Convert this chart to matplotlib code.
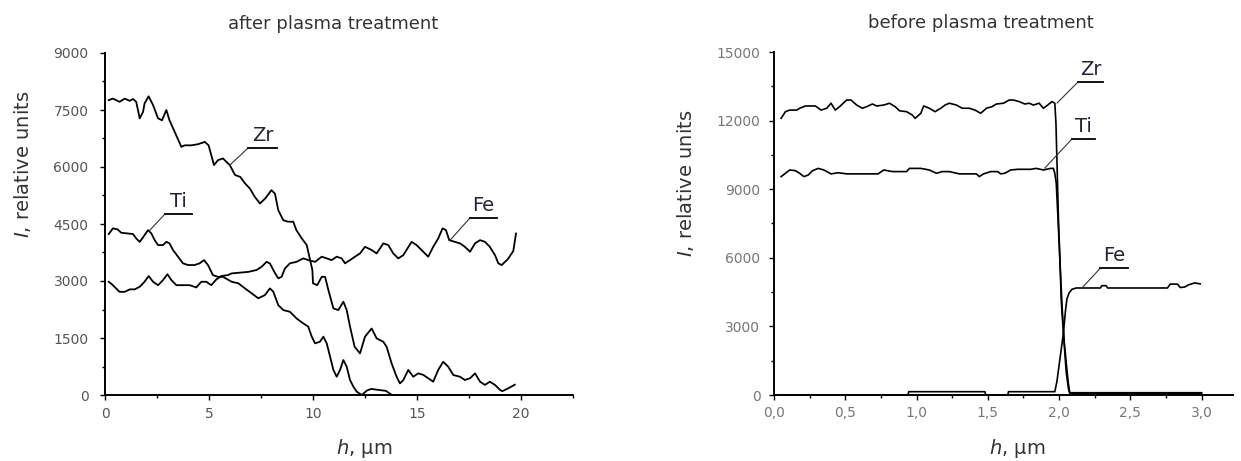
#importing libraries
import matplotlib.pyplot as plt
from matplotlib.ticker import MultipleLocator, FixedLocator

plt.rcParams['font.family'] = ['DejaVu Sans']
plt.rcParams['mathtext.fontset'] = 'dejavusans'

#depth profiles after plasma treatment (h in um, intensity in relative units)
zr_after_h = [0.18, 0.38, 0.7, 0.95, 1.19, 1.35, 1.5, 1.67, 1.83, 1.9, 2.1, 2.31, 2.55, 2.74, 2.95, 3.1,
              3.35, 3.67, 3.83, 4.15, 4.47, 4.8, 4.98, 5.24, 5.43, 5.67, 6.0, 6.25, 6.5, 6.73, 6.97, 7.2,
              7.45, 7.7, 8.0, 8.17, 8.33, 8.57, 8.8, 9.05, 9.2, 9.46, 9.7, 9.86, 9.97, 10.0, 10.2, 10.42,
              10.58, 10.74, 10.98, 11.22, 11.46, 11.62, 11.78, 12.0, 12.26, 12.5, 12.82, 13.06, 13.38,
              13.54, 13.78, 14.02, 14.18, 14.34, 14.58, 14.82, 15.06, 15.3, 15.54, 15.78, 16.02, 16.26,
              16.5, 16.75, 17.07, 17.3, 17.55, 17.79, 18.03, 18.27, 18.5, 18.75, 19.0, 19.1, 19.4, 19.7]
zr_after_i = [7760, 7800, 7715, 7800, 7740, 7790, 7715, 7280, 7450, 7670, 7860, 7630, 7280, 7230, 7500, 7230,
              6925, 6530, 6570, 6570, 6600, 6660, 6570, 6050, 6180, 6225, 6050, 5790, 5740, 5570, 5430, 5215,
              5040, 5170, 5390, 5300, 4865, 4600, 4560, 4560, 4340, 4120, 3945, 3550, 3290, 2940, 2890, 3110,
              3110, 2760, 2280, 2235, 2455, 2235, 1800, 1270, 1095, 1535, 1750, 1490, 1400,
              1270, 830, 480, 305, 390, 660, 480, 570, 530, 440, 350, 660, 875,
              745, 525, 480, 395, 440, 570, 350, 265, 350, 265, 130, 100, 180, 270]

ti_after_h = [0.18, 0.38, 0.6, 0.78, 1.1, 1.35, 1.5, 1.67, 1.83, 2.07, 2.23, 2.39, 2.55, 2.79, 2.95, 3.1,
              3.27, 3.51, 3.75, 3.99, 4.31, 4.55, 4.76, 4.95, 5.19, 5.43, 5.67, 6.09, 6.41, 6.73, 7.05,
              7.37, 7.69, 7.93, 8.09, 8.33, 8.57, 8.89, 9.21, 9.53, 9.77, 9.94, 10.1, 10.33, 10.5, 10.66,
              10.82, 10.98, 11.14, 11.3, 11.46, 11.62, 11.78, 11.94, 12.1, 12.34, 12.6, 12.8, 13.2, 13.5,
              13.8, 15.5, 17.5, 19.7]
ti_after_i = [4235, 4385, 4360, 4270, 4250, 4235, 4120, 4030, 4150, 4340, 4250, 4075, 3945, 3945, 4030, 3990,
              3815, 3640, 3465, 3420, 3420, 3465, 3550, 3420, 3155, 3110, 3110, 2980, 2940, 2805, 2675,
              2545, 2630, 2805, 2720, 2365, 2235, 2190, 2015, 1885, 1800, 1535, 1360, 1400, 1535, 1360,
              1010, 660, 480, 660, 920, 745, 395, 220, 90, 0, 120, 160, 130, 110,
              0, 0, 0, 0]

fe_after_h = [0.18, 0.38, 0.7, 0.95, 1.19, 1.43, 1.67, 1.9, 2.1, 2.31, 2.55, 2.79, 3.0, 3.19, 3.43, 3.75,
              4.07, 4.39, 4.63, 4.87, 5.11, 5.35, 5.59, 5.91, 6.09, 6.49, 6.89, 7.29, 7.53, 7.77, 7.93,
              8.14, 8.33, 8.49, 8.65, 8.89, 9.21, 9.53, 9.77, 10.1, 10.42, 10.66, 10.9, 11.14, 11.38,
              11.54, 11.78, 12.02, 12.26, 12.5, 12.82, 13.06, 13.38, 13.62, 13.86, 14.1, 14.34, 14.74,
              14.98, 15.3, 15.54, 15.78, 16.02, 16.23, 16.39, 16.55, 16.82, 17.07, 17.3, 17.55, 17.79,
              18.03, 18.27, 18.5, 18.75, 18.91, 19.07, 19.36, 19.63, 19.76]
fe_after_i = [2980, 2890, 2715, 2715, 2780, 2780, 2850, 2980, 3130, 2980, 2890, 3025, 3180, 3025, 2890, 2890,
              2890, 2830, 2980, 2980, 2890, 3040, 3130, 3155, 3200, 3220, 3240, 3290, 3375, 3505, 3460,
              3240, 3070, 3110, 3330, 3465, 3505, 3595, 3550, 3505, 3640, 3595, 3550, 3640, 3595,
              3465, 3550, 3640, 3725, 3900, 3815, 3725, 3990, 3945, 3725, 3595, 3680, 4030,
              3945, 3770, 3640, 3900, 4120, 4385, 4340, 4075, 4030, 3990, 3900, 3770, 3990,
              4075, 4030, 3900, 3680, 3465, 3420, 3570, 3790, 4250]

#depth profiles before plasma treatment
zr_before_h = [0.05, 0.08, 0.11, 0.16, 0.18, 0.22, 0.29, 0.33, 0.37, 0.40, 0.43, 0.46, 0.51, 0.54, 0.58,
               0.62, 0.65, 0.69, 0.72, 0.77, 0.81, 0.85, 0.88, 0.93, 0.97, 0.99, 1.03, 1.05, 1.09, 1.13,
               1.17, 1.20, 1.23, 1.28, 1.32, 1.37, 1.41, 1.45, 1.49, 1.53, 1.56, 1.61, 1.65, 1.68, 1.72,
               1.76, 1.79, 1.82, 1.86, 1.89, 1.92, 1.95, 1.97, 1.978, 1.986, 1.995, 2.005, 2.015, 2.025,
               2.035, 2.05, 2.065, 2.075, 2.2, 2.5, 2.8, 3.0]
zr_before_i = [12100, 12390, 12460, 12460, 12540, 12640, 12640, 12460, 12540, 12760, 12460, 12610, 12900,
               12900, 12680, 12540, 12610, 12725, 12640, 12680, 12760, 12610, 12430, 12390, 12245, 12100,
               12320, 12640, 12540, 12390, 12540, 12680, 12760, 12680, 12540, 12540, 12460, 12320, 12540,
               12610, 12725, 12760, 12900, 12900, 12830, 12725, 12760, 12680, 12760, 12540, 12680, 12830,
               12760, 11880, 9985, 7800, 6050, 4150, 3200, 2400, 1400, 500, 100, 100, 100, 100, 100]

ti_before_h = [0.05, 0.08, 0.11, 0.15, 0.18, 0.21, 0.24, 0.27, 0.31, 0.35, 0.40, 0.45, 0.51, 0.73, 0.77,
               0.83, 0.93, 0.95, 1.03, 1.09, 1.14, 1.18, 1.23, 1.30, 1.42, 1.44, 1.47, 1.52, 1.57, 1.59,
               1.62, 1.66, 1.71, 1.80, 1.84, 1.89, 1.94, 1.96, 1.97, 1.98, 1.99, 2.005, 2.02, 2.035,
               2.05, 2.065, 2.075, 2.2, 2.5, 3.0]
ti_before_i = [9550, 9695, 9840, 9810, 9695, 9550, 9620, 9810, 9910, 9840, 9670, 9720, 9670, 9670, 9840,
               9770, 9770, 9910, 9910, 9840, 9695, 9770, 9770, 9670, 9670, 9550, 9670, 9770, 9770, 9670,
               9700, 9840, 9870, 9870, 9910, 9840, 9910, 9910, 9695, 9260, 8000, 6000, 4000, 2300,
               1000, 300, 60, 60, 60, 60]

fe_before_h = [0.05, 0.94, 0.945, 1.48, 1.485, 1.64, 1.645, 1.97, 1.985, 2.0, 2.015, 2.03, 2.045, 2.055,
               2.07, 2.09, 2.12, 2.29, 2.30, 2.33, 2.34, 2.76, 2.78, 2.83, 2.85, 2.88, 2.91, 2.95, 2.99]
fe_before_i = [0, 0, 145, 145, 0, 0, 145, 145, 600, 1300, 2000, 2700, 3700, 4200,
               4460, 4620, 4680, 4680, 4780, 4780, 4680, 4680, 4850, 4850, 4700, 4720, 4820, 4900, 4860]

after_yticks = [0, 1500, 3000, 4500, 6000, 7500, 9000]
after_xticks = [0, 5, 10, 15, 20]
before_yticks = [0, 3000, 6000, 9000, 12000, 15000]
before_xticks = [0.0, 0.5, 1.0, 1.5, 2.0, 2.5, 3.0]
before_xlabels = ['0,0', '0,5', '1,0', '1,5', '2,0', '2,5', '3,0']


def style_axes(ax, tick_color, ypad, xpad):
    ax.spines['top'].set_visible(False)
    ax.spines['right'].set_visible(False)
    for s in ['left', 'bottom']:
        ax.spines[s].set_linewidth(1.4)
    ax.tick_params(which='major', direction='out', length=3.8, width=1.0, labelsize=10,
                   labelcolor=tick_color)
    ax.tick_params(which='minor', direction='out', length=2.2, width=1.0)
    ax.tick_params(axis='y', pad=ypad)
    ax.tick_params(axis='x', pad=xpad)


def leader(ax, name, px, py, x0, x1, sy):
    #diagonal line from the curve to a short shelf, label sitting on the shelf
    ax.plot([px, x0], [py, sy], color='#333333', lw=0.8)
    ax.plot([x0, x1], [sy, sy], color='black', lw=1.3)
    ax.annotate(name, xy=((x0 + x1) / 2, sy), xytext=(0, 5), textcoords='offset points',
                ha='center', va='baseline', fontsize=14, color='#222233')


fig = plt.figure(figsize=(12.41, 4.61), dpi=100)

#left panel
ax1 = fig.add_axes([105 / 1241, 66 / 461, 468 / 1241, 342 / 461])
for h, i in [(zr_after_h, zr_after_i), (ti_after_h, ti_after_i), (fe_after_h, fe_after_i)]:
    ax1.plot(h, i, color='black', lw=1.3, clip_on=False)
ax1.set_xlim(0, 22.5)
ax1.set_ylim(0, 9000)
ax1.yaxis.set_major_locator(FixedLocator(after_yticks))
ax1.yaxis.set_minor_locator(MultipleLocator(750))
ax1.xaxis.set_major_locator(FixedLocator(after_xticks))
ax1.xaxis.set_minor_locator(MultipleLocator(2.5))
style_axes(ax1, '#555555', 8, 5)
leader(ax1, 'Zr', 6.0, 6050, 6.88, 8.27, 6500)
leader(ax1, 'Ti', 2.16, 4340, 2.88, 4.18, 4760)
leader(ax1, 'Fe', 16.6, 4080, 17.55, 18.85, 4660)
ax1.set_title('after plasma treatment', fontsize=13, color='#333333', x=0.488, y=1.045)
ax1.set_xlabel('$h$, µm', fontsize=14, color='#333333')
ax1.xaxis.set_label_coords(0.554, -0.155)
ax1.xaxis.label.set_va('center')
ax1.set_ylabel('$I$, relative units', fontsize=14, color='#333333')
ax1.yaxis.set_label_coords(-0.177, 0.675)
ax1.yaxis.label.set_va('center')

#right panel
ax2 = fig.add_axes([774 / 1241, 66 / 461, 459 / 1241, 343 / 461])
for h, i in [(zr_before_h, zr_before_i), (ti_before_h, ti_before_i), (fe_before_h, fe_before_i)]:
    ax2.plot(h, i, color='black', lw=1.2, clip_on=False)
ax2.set_xlim(0, 3.22)
ax2.set_ylim(0, 15000)
ax2.yaxis.set_major_locator(FixedLocator(before_yticks))
ax2.yaxis.set_minor_locator(MultipleLocator(1500))
ax2.set_xticks(before_xticks)
ax2.set_xticklabels(before_xlabels)
ax2.xaxis.set_minor_locator(MultipleLocator(0.25))
style_axes(ax2, '#777777', 6, 4)
leader(ax2, 'Zr', 1.986, 12770, 2.133, 2.309, 13690)
leader(ax2, 'Ti', 1.90, 9925, 2.09, 2.25, 11195)
leader(ax2, 'Fe', 2.16, 4680, 2.29, 2.48, 5550)
ax2.set_title('before plasma treatment', fontsize=13, color='#333333', x=0.451, y=1.045)
ax2.set_xlabel('$h$, µm', fontsize=14, color='#333333')
ax2.xaxis.set_label_coords(0.529, -0.155)
ax2.xaxis.label.set_va('center')
ax2.set_ylabel('$I$, relative units', fontsize=14, color='#333333')
ax2.yaxis.set_label_coords(-0.192, 0.618)
ax2.yaxis.label.set_va('center')

plt.savefig('out.png', dpi=100)
